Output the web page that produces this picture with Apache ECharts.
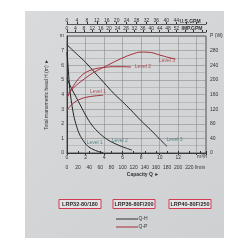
<!DOCTYPE html>
<html><head><meta charset="utf-8">
<script src="https://cdn.jsdelivr.net/npm/echarts@6/dist/echarts.min.js"></script>
<style>html,body{margin:0;padding:0;background:#fff}#c{width:250px;height:250px}</style>
</head><body><div id="c"></div>
<script>
// ---- data (Q in m3/h, H in m, P in W) ----
const qH1 = [0, 0.15, 0.3, 0.5, 0.75, 1.0, 1.3, 1.7, 2.2, 2.8, 3.4, 3.9];
const hH1 = [6.9, 5.6, 4.4, 3.4, 2.5, 1.9, 1.35, 0.9, 0.5, 0.25, 0.1, 0.02];
const qH2 = [0, 0.5, 1.0, 1.5, 2.0, 2.7, 3.5, 4.4, 5.5, 6.3, 7.0];
const hH2 = [5.1, 4.4, 3.8, 3.2, 2.6, 1.9, 1.35, 0.9, 0.55, 0.35, 0.2];
const qH3 = [0, 1, 2, 3, 4, 5, 6, 6.8, 8, 9, 10, 10.8];
const hH3 = [7.4, 6.8, 6.2, 5.5, 4.8, 4.1, 3.5, 3.0, 2.2, 1.6, 0.95, 0.45];
const qP1 = [0, 0.5, 1, 1.5, 2, 3, 3.9];
const pP1 = [118, 132, 142, 148, 152, 156, 158];
const qP2 = [0, 0.5, 1, 1.5, 2, 3, 4, 5, 6, 6.9];
const pP2 = [150, 175, 195, 210, 220, 230, 234, 236, 236, 235];
const qP3 = [0, 1, 2, 3, 4, 5, 6, 7, 8, 9, 10, 11, 11.7];
const pP3 = [160, 185, 205, 222, 235, 248, 260, 270, 276, 275, 268, 261, 257];
const levelNames = ['Level 1', 'Level 2', 'Level 3'];
const hLabelAt = [[3.0, 0.68], [5.7, 0.82], [11.6, 0.9]];
const pLabelAt = [[3.35, 167], [8.2, 235], [10.8, 252]];
const hTicks = ['0','1','2','3','4','5','6','7','m'];
const pTicks = ['0','40','80','120','160','200','240','280','P (W)'];
const boxes = ['LRP32-80/180', 'LRP36-80F/200', 'LRP40-80F/250'];
const legendNames = ['Q-H', 'Q-P'];

const zip = (a, b) => a.map((v, i) => [v, b[i]]);
const RED = '#a3303b', DARK = '#1d2428', TEAL = '#2c7479';
const F = 'Liberation Sans, Arial, sans-serif';
const chart = echarts.init(document.getElementById('c'), null, {renderer: 'canvas'});

function line(q, v, yIdx, color) {
  return {type: 'line', xAxisIndex: 0, yAxisIndex: yIdx, data: zip(q, v), smooth: 0.4, symbol: 'none',
    lineStyle: {color: color, width: 1}, silent: true};
}
function labels(pts, yIdx, color) {
  return {type: 'scatter', xAxisIndex: 0, yAxisIndex: yIdx, symbolSize: 1, itemStyle: {color: 'rgba(0,0,0,0)'}, silent: true,
    data: pts.map((p, i) => ({value: p, name: levelNames[i]})),
    label: {show: true, position: 'inside', formatter: '{b}', color: color, fontSize: 5, fontFamily: F}};
}
const axisTxt = {fontSize: 5, color: '#333', fontFamily: F};
const gridL = 67, gridT = 36, gridW = 139, gridH = 117;

const option = {
  backgroundColor: '#ffffff',
  animation: false,
  grid: {left: gridL, top: gridT, width: gridW, height: gridH, show: true, backgroundColor: 'transparent', borderColor: '#333', borderWidth: 0.8},
  xAxis: [
    {type: 'value', position: 'bottom', min: 0, max: 15, interval: 2,
     axisLine: {show: true, lineStyle: {color: '#333', width: 0.8}}, axisTick: {show: true, length: 2, lineStyle: {color: '#333'}},
     axisLabel: {...axisTxt, margin: 2, formatter: v => v > 12 ? '' : v},
     splitLine: {show: true, lineStyle: {color: '#8c8c8c', width: 0.6}}},
    {type: 'value', position: 'bottom', offset: 10, min: 0, max: 250, interval: 20,
     axisLine: {show: true, lineStyle: {color: '#333', width: 0.8}}, axisTick: {show: true, length: 2, inside: true, lineStyle: {color: '#333'}},
     axisLabel: {...axisTxt, margin: 2, formatter: v => v > 220 ? '' : v}, splitLine: {show: false}},
    {type: 'value', position: 'top', offset: 12, min: 0, max: 56, interval: 4,
     axisLine: {show: true, lineStyle: {color: '#333', width: 0.8}}, axisTick: {show: true, length: 2, lineStyle: {color: '#333'}},
     axisLabel: {...axisTxt, margin: 1, formatter: v => v > 44 ? '' : v}, splitLine: {show: false}},
    {type: 'value', position: 'top', offset: 4, min: 0, max: 66, interval: 4,
     axisLine: {show: true, lineStyle: {color: '#333', width: 0.8}}, axisTick: {show: true, length: 2, lineStyle: {color: '#333'}},
     axisLabel: {...axisTxt, margin: 1, formatter: v => v > 52 ? '' : v}, splitLine: {show: false}}
  ],
  yAxis: [
    {type: 'value', min: 0, max: 8, interval: 1, position: 'left',
     name: 'Total manometric head H (m) \u25BA', nameLocation: 'middle', nameGap: 9, nameRotate: 90,
     nameTextStyle: {fontSize: 5, color: '#333', fontFamily: F},
     axisLine: {show: true, lineStyle: {color: '#333', width: 0.8}}, axisTick: {show: false},
     axisLabel: {...axisTxt, margin: 3, formatter: (v) => hTicks[Math.round(v)]},
     splitLine: {show: true, lineStyle: {color: '#8c8c8c', width: 0.6}},
     minorTick: {show: false, splitNumber: 2}, minorSplitLine: {show: true, lineStyle: {color: '#a0a0a0', width: 0.5}}},
    {type: 'value', min: 0, max: 320, interval: 40, position: 'right',
     axisLine: {show: true, lineStyle: {color: '#333', width: 0.8}}, axisTick: {show: false},
     axisLabel: {...axisTxt, margin: 4, formatter: (v) => pTicks[Math.round(v / 40)]},
     splitLine: {show: false}}
  ],
  series: [
    line(qH1, hH1, 0, DARK), line(qH2, hH2, 0, DARK), line(qH3, hH3, 0, DARK),
    line(qP1, pP1, 1, RED), line(qP2, pP2, 1, RED), line(qP3, pP3, 1, RED),
    labels(hLabelAt, 0, TEAL), labels(pLabelAt, 1, RED)
  ],
  graphic: [
    {type: 'rect', z: -10, shape: {x: 25, y: 11, width: 199, height: 227},
     style: {fill: new echarts.graphic.LinearGradient(0, 0, 1, 1, [{offset: 0, color: '#d9dadc'}, {offset: 1, color: '#cfd0d2'}])}},
    {type: 'text', x: 190, y: 22, style: {text: 'U.S.GPM', fill: '#333', font: 'bold 5px ' + F, align: 'center', verticalAlign: 'middle'}},
    {type: 'text', x: 192, y: 29, style: {text: 'IMP.GPM', fill: '#333', font: 'bold 5px ' + F, align: 'center', verticalAlign: 'middle'}},
    {type: 'text', x: 202, y: 157, style: {text: 'm\u00B3/h', fill: '#333', font: '5px ' + F, align: 'center', verticalAlign: 'middle'}},
    {type: 'text', x: 200, y: 168, style: {text: 'l/min', fill: '#333', font: '5px ' + F, align: 'center', verticalAlign: 'middle'}},
    {type: 'text', x: 143, y: 175, style: {text: 'Capacity Q \u25BA', fill: '#333', font: 'bold 5px ' + F, align: 'center', verticalAlign: 'middle'}},
    ...boxes.map((t, i) => ({type: 'group', x: [80, 134, 190][i], y: 204, children: [
      {type: 'rect', shape: {x: -21, y: -4.5, width: 42, height: 9}, style: {fill: '#e6e3e5', stroke: '#d23a55', lineWidth: 1}},
      {type: 'text', style: {text: t, font: 'bold 5.5px ' + F, fill: '#2a2a2a', align: 'center', verticalAlign: 'middle'}}
    ]})),
    ...legendNames.map((t, i) => ({type: 'group', x: 116, y: [219, 227][i], children: [
      {type: 'line', shape: {x1: 0, y1: 0, x2: 22, y2: 0}, style: {stroke: i === 0 ? '#333' : RED, lineWidth: 1}},
      {type: 'text', x: 27, y: 0, style: {text: t, font: '5px ' + F, fill: '#333', align: 'center', verticalAlign: 'middle'}}
    ]}))
  ]
};
chart.setOption(option);
</script></body></html>
